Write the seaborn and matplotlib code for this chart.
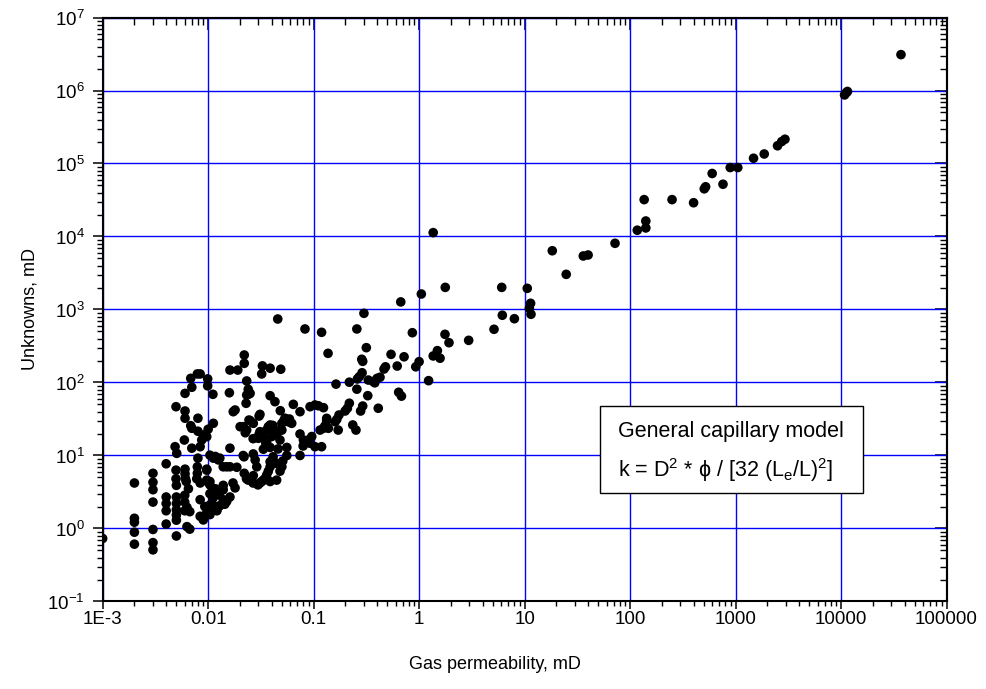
import matplotlib
matplotlib.use("Agg")
import matplotlib.pyplot as plt
import pandas as pd
import seaborn as sns
from matplotlib.patches import Rectangle
from matplotlib.ticker import FixedLocator, FixedFormatter, LogLocator, NullFormatter

# Measured gas permeability (mD) and the matching model values (mD)
gas_perm_md = [
    37000, 10800, 11200, 11500, 2940, 2740, 2500, 1870, 1480, 1050, 890, 760, 600, 520, 505,
    400, 250, 136, 141, 141, 117, 72, 40, 36, 18.3, 24.8, 10.6, 6.07, 1.36, 1.77, 1.05, 0.67,
    11.4, 11.1, 11.5, 6.15, 8.0, 5.13, 2.95, 1.92, 1.76, 0.863, 1.49, 1.36, 1.58, 1.0, 0.93,
    1.23, 0.542, 0.72, 0.62, 0.48, 0.465, 0.426, 0.64, 0.68,
    0.30, 0.257, 0.119, 0.137, 0.316, 0.286, 0.292, 0.288, 0.271, 0.26, 0.33, 0.368, 0.40,
    0.38, 0.163, 0.218, 0.257, 0.326, 0.41, 0.218, 0.209, 0.199, 0.292, 0.279, 0.124, 0.174,
    0.166, 0.160, 0.133, 0.128, 0.138, 0.171, 0.124, 0.235, 0.252, 0.119,
    0.0457, 0.0828, 0.0925, 0.103, 0.111, 0.0743, 0.0642, 0.0483, 0.0387, 0.043, 0.031,
    0.025, 0.0268, 0.0536, 0.0576, 0.062, 0.05, 0.0481, 0.0463, 0.0387, 0.0359, 0.0401,
    0.0415, 0.031, 0.0322, 0.0334, 0.0299, 0.0232, 0.0216, 0.0201, 0.018, 0.0173, 0.0159,
    0.022, 0.022, 0.0161, 0.0191, 0.0327, 0.0322, 0.0387, 0.0488, 0.0099, 0.0099, 0.0084,
    0.0111, 0.0232, 0.024, 0.0232, 0.025, 0.0229, 0.0112, 0.010, 0.009, 0.0097, 0.0087,
    0.0161, 0.0219, 0.0268, 0.0279, 0.0289, 0.0743, 0.0925, 0.103, 0.0743, 0.08, 0.0112,
    0.0125, 0.015, 0.0187, 0.0097,
    0.00684, 0.0079, 0.007, 0.00604, 0.00496, 0.00604, 0.00604, 0.008, 0.00684, 0.007,
    0.00595, 0.0377, 0.041, 0.0352, 0.0334, 0.0387, 0.0446, 0.022, 0.0268, 0.024, 0.00504,
    0.00486, 0.00496, 0.00496, 0.005, 0.00604, 0.00604, 0.0061, 0.0062, 0.008, 0.0079,
    0.0079, 0.0078, 0.0097, 0.0097, 0.004, 0.003, 0.003, 0.003, 0.003, 0.002, 0.004, 0.004,
    0.004, 0.004, 0.005, 0.005, 0.005, 0.005, 0.005, 0.005, 0.006, 0.006, 0.0063, 0.006,
    0.0067, 0.002, 0.002, 0.002, 0.002, 0.003, 0.003, 0.003, 0.0063, 0.0067, 0.001, 0.0065,
    0.0084, 0.0093, 0.0104, 0.0117, 0.0084, 0.009, 0.0104, 0.0121, 0.0125, 0.0084, 0.010,
    0.0117, 0.007, 0.0084, 0.0104, 0.0111, 0.0125, 0.0133, 0.0139, 0.0111, 0.0097,
    0.0215, 0.0359, 0.0387, 0.046, 0.0557, 0.0557, 0.0795, 0.0413, 0.040, 0.0387, 0.0372,
    0.0359, 0.0345, 0.0334, 0.0322, 0.031, 0.0297, 0.051, 0.05, 0.048, 0.0231, 0.0258,
    0.0267, 0.0387, 0.0446, 0.0139, 0.0161, 0.0104, 0.0104, 0.0112, 0.0121, 0.0139, 0.0172,
    0.018, 0.0161, 0.0139, 0.0129, 0.0121, 0.0104, 0.0144, 0.015, 0.0117, 0.0129, 0.0104,
    0.0244, 0.0304, 0.0244, 0.0225, 0.0267, 0.0372, 0.0414, 0.0446, 0.05, 0.0524, 0.059,
    0.0304, 0.0359, 0.0401, 0.048, 0.089, 0.096, 0.115, 0.133, 0.008,
]
unknowns_md = [
    3.1e6, 8.7e5, 9.3e5, 9.7e5, 2.15e5, 2.0e5, 1.75e5, 1.35e5, 1.18e5, 8.8e4, 8.8e4, 5.2e4,
    7.3e4, 4.8e4, 4.5e4, 2.9e4, 3.2e4, 3.2e4, 1.63e4, 1.31e4, 1.22e4, 8070, 5580, 5410, 6380,
    3030, 1950, 2010, 11300, 2010, 1630, 1270, 1216, 1040, 860, 834, 748, 536, 378, 351, 457,
    481, 273, 231, 215, 193, 164, 106, 243, 225, 168, 164, 153, 118, 73.5, 65,
    887, 541, 487, 251, 300, 208, 195, 136, 120, 112, 108, 103, 114, 99, 95, 101, 81, 66,
    44.4, 52, 44.4, 40.7, 47.6, 40.7, 45.2, 35.9, 31.3, 29.0, 30, 25.4, 23.6, 22.3, 23.6,
    26.2, 22.3, 13.2,
    741, 541, 46.6, 49.2, 48, 39.8, 50.2, 41.1, 65.9, 54.6, 36.6, 30, 27.6, 32.4, 29, 27.6,
    27.6, 22.3, 21.2, 26.2, 22.3, 20.1, 19.1, 21.2, 19.1, 17.2, 17.2, 22.3, 24.8, 24.8, 42,
    39.8, 72.4, 238, 183, 148, 148, 169, 131, 157, 152, 112, 90, 131, 68.9, 105, 80.7, 67.4,
    71.1, 51.9, 27.6, 22.9, 19.1, 18.1, 16.3, 12.6, 9.6, 10.5, 8.7, 7.0, 10, 14.7, 13.2,
    19.7, 16.3, 9.2, 8.7, 7.0, 6.9, 6.5,
    114, 131, 86, 71, 46.6, 40.7, 32.4, 32.4, 25.6, 23.6, 16.3, 23.6, 25.8, 14.7, 12.2, 8.2,
    7.8, 5.7, 5.3, 4.6, 10.7, 13.2, 6.3, 4.8, 3.9, 6.5, 5.6, 4.8, 4.4, 9.2, 7.0, 5.7, 4.8,
    6.3, 4.6, 7.7, 5.7, 4.3, 3.4, 2.3, 4.2, 2.7, 2.2, 1.75, 1.15, 2.7, 2.2, 1.8, 1.3, 0.79,
    1.53, 2.85, 2.3, 1.95, 1.75, 1.7, 1.38, 1.22, 0.89, 0.61, 0.97, 0.64, 0.51, 1.06, 0.98,
    0.73, 3.5, 2.48, 2.0, 2.1, 2.0, 1.47, 1.31, 1.55, 1.75, 2.0, 4.2, 4.3, 3.5, 12.6, 13.2,
    3.0, 2.6, 2.9, 3.3, 3.9, 1.8, 1.65,
    10.0, 13.5, 12.9, 12.3, 12.9, 10.0, 13.5, 9.6, 8.4, 7.0, 6.1, 5.4, 4.8, 4.6, 4.4, 4.2,
    3.96, 8.4, 7.0, 6.1, 4.8, 4.6, 4.2, 4.4, 4.6, 7.0, 7.0, 4.4, 3.96, 3.4, 3.1, 3.4, 4.2,
    3.6, 2.7, 2.48, 2.05, 1.8, 1.7, 2.15, 2.35, 9.7, 9.2, 10.1,
    69.5, 34.7, 30.6, 20.5, 17.0, 24.8, 22.3, 19.9, 22.3, 30.5, 31.6, 19.5, 15.6, 18.2,
    16.3, 16.3, 18.2, 22.3, 32.3, 21.5,
]

x_ticks = [1e-3, 1e-2, 1e-1, 1e0, 1e1, 1e2, 1e3, 1e4, 1e5]
x_tick_labels = ["1E-3", "0.01", "0.1", "1", "10", "100", "1000", "10000", "100000"]
y_ticks = [1e-1, 1e0, 1e1, 1e2, 1e3, 1e4, 1e5, 1e6, 1e7]
y_tick_labels = [r"$10^{-1}$", r"$10^{0}$", r"$10^{1}$", r"$10^{2}$", r"$10^{3}$",
                 r"$10^{4}$", r"$10^{5}$", r"$10^{6}$", r"$10^{7}$"]

box_title = "General capillary model"
box_formula = r"k = D$^{2}$ * ϕ / [32 (L$_{\mathrm{e}}$/L)$^{2}$]"

sns.set_style("ticks")
plt.rcParams["font.family"] = ["Liberation Sans", "DejaVu Sans"]
plt.rcParams["text.color"] = "black"
plt.rcParams["axes.labelcolor"] = "black"
plt.rcParams["mathtext.fontset"] = "custom"
plt.rcParams["mathtext.rm"] = "Liberation Sans"
plt.rcParams["mathtext.it"] = "Liberation Sans:italic"
plt.rcParams["mathtext.bf"] = "Liberation Sans:bold"

df = pd.DataFrame({"gas": gas_perm_md, "unknown": unknowns_md})

fig = plt.figure(figsize=(9.87, 6.89), dpi=100)
ax = fig.add_axes([0.104, 0.127, 0.855, 0.8476])

sns.scatterplot(data=df, x="gas", y="unknown", color="black", s=48,
                edgecolor="none", linewidth=0, legend=False, ax=ax, zorder=3)

ax.set_xscale("log")
ax.set_yscale("log")
ax.set_xlim(1e-3, 1e5)
ax.set_ylim(1e-1, 1e7)

ax.xaxis.set_major_locator(FixedLocator(x_ticks))
ax.xaxis.set_major_formatter(FixedFormatter(x_tick_labels))
ax.yaxis.set_major_locator(FixedLocator(y_ticks))
ax.yaxis.set_major_formatter(FixedFormatter(y_tick_labels))
for axis in (ax.xaxis, ax.yaxis):
    axis.set_minor_locator(LogLocator(base=10, subs=range(2, 10), numticks=20))
    axis.set_minor_formatter(NullFormatter())

ax.grid(True, which="major", color="#0000ff", linewidth=1.0)
ax.set_axisbelow(True)

for sp in ax.spines.values():
    sp.set_linewidth(1.5)
    sp.set_color("black")

ax.tick_params(which="major", direction="out", length=7.5, width=1.1,
               labelsize=13.5, colors="black", labelcolor="black")
ax.tick_params(which="minor", direction="out", length=4.3, width=1.0, colors="black")
ax.tick_params(axis="x", which="major", length=6.0, pad=1.0)
ax.tick_params(axis="x", which="minor", length=3.8)
ax.tick_params(axis="y", which="major", pad=5.5)

# inward ticks along the top and right frame
top = ax.secondary_xaxis("top")
top.xaxis.set_major_locator(FixedLocator(x_ticks))
top.xaxis.set_minor_locator(LogLocator(base=10, subs=range(2, 10), numticks=20))
top.xaxis.set_major_formatter(NullFormatter())
top.xaxis.set_minor_formatter(NullFormatter())
top.tick_params(which="major", direction="in", length=8.5, width=1.1, colors="black")
top.tick_params(which="minor", direction="in", length=4.8, width=1.0, colors="black")
top.spines["top"].set_linewidth(1.5)

right = ax.secondary_yaxis("right")
right.yaxis.set_major_locator(FixedLocator(y_ticks))
right.yaxis.set_minor_locator(LogLocator(base=10, subs=range(2, 10), numticks=20))
right.yaxis.set_major_formatter(NullFormatter())
right.yaxis.set_minor_formatter(NullFormatter())
right.tick_params(which="major", direction="in", length=8.5, width=1.1, colors="black")
right.tick_params(which="minor", direction="in", length=4.8, width=1.0, colors="black")
right.spines["right"].set_linewidth(1.5)

ax.set_xlabel("Gas permeability, mD", fontsize=13, color="black")
ax.xaxis.set_label_coords(0.465, -0.094)
ax.set_ylabel("Unknowns, mD", fontsize=13, color="black")
ax.yaxis.set_label_coords(-0.0765, 0.5)

ax.add_patch(Rectangle((0.589, 0.186), 0.312, 0.149, transform=ax.transAxes,
                       facecolor="white", edgecolor="black", linewidth=1.0, zorder=5))
ax.text(0.611, 0.291, box_title, transform=ax.transAxes, fontsize=15.5,
        va="center", ha="left", color="black", zorder=6)
ax.text(0.611, 0.225, box_formula, transform=ax.transAxes, fontsize=15.5,
        va="center", ha="left", color="black", zorder=6)

fig.savefig("out.png", dpi=100)
